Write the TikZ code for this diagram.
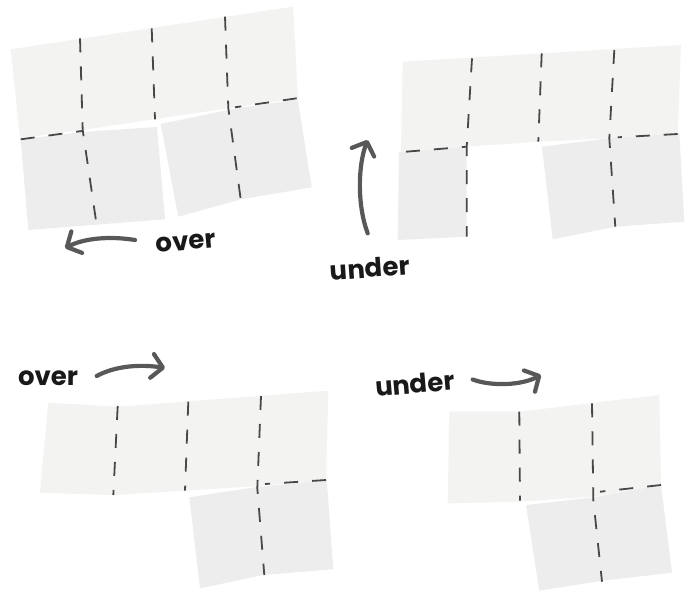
\documentclass[tikz,border=0pt]{standalone}
\usepackage{fontspec}
\setmainfont{Poppins}
\usetikzlibrary{arrows.meta}
\definecolor{paperlight}{RGB}{243,243,242}
\definecolor{paperdark}{RGB}{236,237,236}
\definecolor{foldgray}{RGB}{72,72,72}
\definecolor{arrowgray}{RGB}{88,88,88}
\begin{document}
\begin{tikzpicture}[x=1pt,y=-1pt,
	topstrip/.style={fill=paperlight,draw=none},
	flap/.style={fill=paperdark,draw=none},
	fold/.style={draw=foldgray,line width=1.8pt,dash pattern=on 14pt off 14pt},
	turn/.style={draw=arrowgray,line width=4.2pt,line cap=round,-{Straight Barb[length=11pt,width=24pt,line cap=round,line join=round]}},
	word/.style={font=\bfseries\fontsize{26}{30}\selectfont,text=black!90,inner sep=0pt}]
	\useasboundingbox (0,0) rectangle (692,594);
	\fill[white] (0,0) rectangle (692,594);
	\fill[topstrip] (10.7,49.3) -- (293,6.7) -- (298,98) -- (230,108) -- (155,119) -- (83,130) -- (20,138) -- cycle;
	\fill[flap] (20.7,139.3) -- (83,132) -- (157,127) -- (165,219.3) -- (28.3,230) -- cycle;
	\fill[flap] (160.7,124) -- (233,109) -- (297.7,99.5) -- (311.7,187.3) -- (241,199.3) -- (178.3,216.7) -- cycle;
	\draw[fold] (80,38.3) -- (82.7,130) -- (96,220.7);
	\draw[fold] (151.7,28.3) -- (155,119.3);
	\draw[fold] (225,16.7) -- (228.3,108) -- (240.7,199.3);
	\draw[fold] (20.7,139.3) -- (82,131);
	\draw[fold] (296.7,98.3) -- (235,107.3);
	\fill[topstrip] (402.7,61.7) -- (681,45) -- (677.7,133.3) -- (609.3,138.3) -- (539.3,141.7) -- (466,146.7) -- (401,151.7) -- cycle;
	\fill[flap] (406,151.7) -- (466.7,146.7) -- (466.7,236.7) -- (397.7,240) -- (399,152) -- cycle;
	\fill[flap] (542,146.7) -- (609.3,138.3) -- (679.3,133.3) -- (684.3,221.7) -- (615.3,226.7) -- (552.7,239.3) -- cycle;
	\draw[fold] (472,58.3) -- (466.7,146.7) -- (466.7,236.7);
	\draw[fold] (541.7,53.3) -- (538.3,141.7);
	\draw[fold] (614.3,50) -- (609.3,138.3) -- (615.3,226.7);
	\draw[fold] (406,151.7) -- (466.7,146.7);
	\draw[fold] (677.7,134) -- (617.7,137.3);
	\fill[topstrip] (48.3,402.7) -- (118,406.7) -- (328.3,390.7) -- (326,480) -- (256.7,486) -- (185,490.7) -- (113.3,495) -- (40,492.7) -- cycle;
	\fill[flap] (189.3,497.3) -- (256.7,487) -- (326.7,480) -- (333.3,569.3) -- (263.3,575) -- (200,588.3) -- cycle;
	\draw[fold] (117.7,406) -- (113.3,495);
	\draw[fold] (188.3,401.7) -- (185,490.7);
	\draw[fold] (261,396) -- (257.3,488.3) -- (264.3,575);
	\draw[fold] (326,480) -- (265,484);
	\fill[topstrip] (449.3,411.7) -- (519.3,411.7) -- (659.3,395) -- (661,485) -- (592.7,496.7) -- (519.3,501.7) -- (447.7,503.3) -- cycle;
	\fill[flap] (526,505) -- (592.7,497.5) -- (661,485) -- (672,572.7) -- (602,580.7) -- (539.3,590.7) -- cycle;
	\draw[fold] (519.3,411.7) -- (520,500.7);
	\draw[fold] (592,403.3) -- (593.3,500) -- (602,581.7);
	\draw[fold] (661,485) -- (600,491.7);
	\node[word,rotate=5] (over1) at (186,243) {over};
	\node[word,rotate=4] (under1) at (370,268) {under};
	\node[word] (over2) at (48,378) {over};
	\node[word,rotate=5] (under2) at (415,384) {under};
	\coordinate (a1s) at (135,240);
	\coordinate (a1e) at (65,248);
	\coordinate (a2s) at (367.7,233.3);
	\coordinate (a2e) at (367.7,140);
	\coordinate (a3s) at (96.7,376);
	\coordinate (a3e) at (165,368);
	\coordinate (a4s) at (472.7,379.5);
	\coordinate (a4e) at (541,375);
	\draw[turn] (a1s) .. controls (110,236) and (85,238) .. (a1e);
	\draw[turn] (a2s) .. controls (357,205) and (358,165) .. (a2e);
	\draw[turn] (a3s) .. controls (115,366) and (140,364) .. (a3e);
	\draw[turn] (a4s) .. controls (490,386) and (520,386) .. (a4e);
\end{tikzpicture}
\end{document}
